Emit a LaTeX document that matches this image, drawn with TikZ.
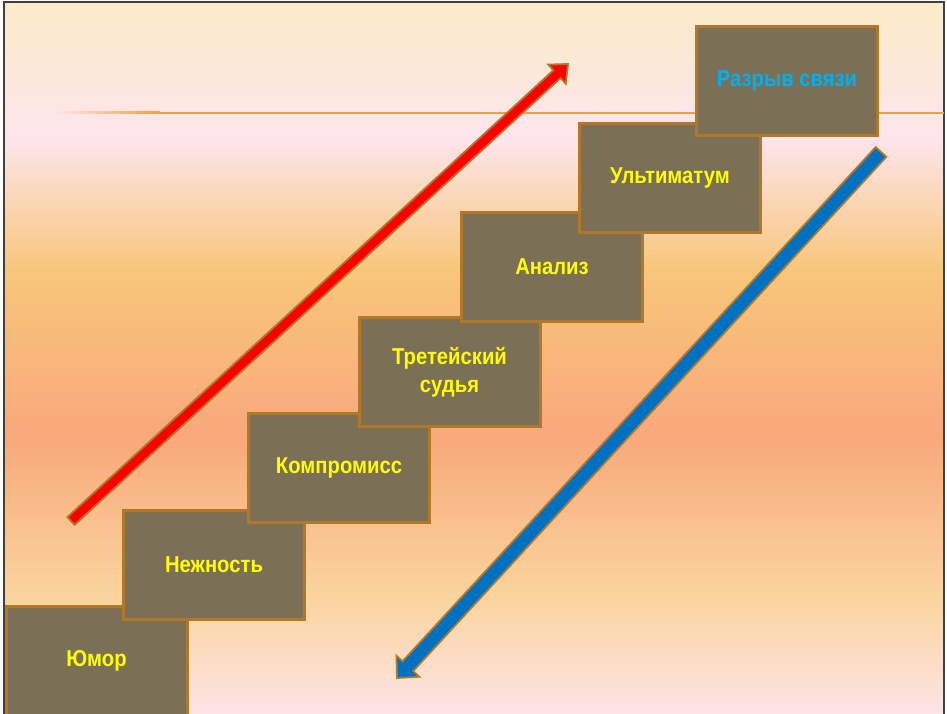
\documentclass[tikz,border=0pt]{standalone}
\usepackage{fontspec}
\setmainfont{Liberation Sans}[FakeStretch=0.88]
\usetikzlibrary{calc}
\definecolor{bgA}{HTML}{FBEBC8}
\definecolor{bgB}{HTML}{FDE5EC}
\definecolor{bgC}{HTML}{F8C67A}
\definecolor{bgD}{HTML}{F9A87B}
\definecolor{bgE}{HTML}{FAD49C}
\definecolor{bgF}{HTML}{FDE4E8}
\definecolor{boxfill}{HTML}{7B7055}
\definecolor{boxline}{HTML}{B07828}
\definecolor{txtyellow}{HTML}{FFFF00}
\definecolor{txtcyan}{HTML}{00B0F0}
\definecolor{arrred}{HTML}{FF0000}
\definecolor{arrblue}{HTML}{0070C0}
\definecolor{rule}{HTML}{F0A040}
\definecolor{framegray}{HTML}{404040}
\pgfdeclareverticalshading{slidebg}{100bp}{%
  color(0bp)=(bgF); color(25bp)=(bgF); color(33.5bp)=(bgE); color(44.7bp)=(bgD);
  color(56.2bp)=(bgC); color(65.5bp)=(bgB); color(75bp)=(bgA); color(100bp)=(bgA)}
\tikzset{
  stepbox/.style={draw=boxline, fill=boxfill, line width=3pt, minimum width=181pt,
    minimum height=109pt, inner sep=0pt, text=txtyellow, align=center,
    font=\bfseries\fontsize{23}{28}\selectfont},
  arrowshape/.style={draw=boxline, line width=1.8pt, line join=miter}
}
\begin{document}
\begin{tikzpicture}[x=1pt,y=-1pt]
\useasboundingbox (0,0) rectangle (947,714);
\fill[white] (0,0) rectangle (947,714);
\shade[shading=slidebg] (4,2) rectangle (944,716);
\draw[framegray, line width=1.2pt] (4,716) -- (4,2) -- (944,2) -- (944,716);
% orange rule
\shade[left color=bgB, right color=rule] (55,112) rectangle (160,114);
\fill[rule] (160,112) rectangle (944,114);
% red arrow
\coordinate (rt) at (71,521);
\coordinate (rh) at (568,64);
\coordinate (rn) at ($(rh)!15pt!(rt)$);
\filldraw[arrowshape, fill=arrred] ($(rt)!5.3pt!90:(rh)$) -- ($(rn)!5.3pt!90:(rh)$) -- ($(rn)!13pt!90:(rh)$) -- (rh)
  -- ($(rn)!13pt!-90:(rh)$) -- ($(rn)!5.3pt!-90:(rh)$) -- ($(rt)!5.3pt!-90:(rh)$) -- cycle;
% blue arrow
\coordinate (bt) at (881,152);
\coordinate (bh) at (397,678);
\coordinate (bn) at ($(bh)!16pt!(bt)$);
\filldraw[arrowshape, fill=arrblue] ($(bt)!7.2pt!90:(bh)$) -- ($(bn)!7.2pt!90:(bh)$) -- ($(bn)!15.5pt!90:(bh)$) -- (bh)
  -- ($(bn)!15.5pt!-90:(bh)$) -- ($(bn)!7.2pt!-90:(bh)$) -- ($(bt)!7.2pt!-90:(bh)$) -- cycle;
% steps
\node[stepbox] (humor) at (96.5,661) {Юмор};
\node[stepbox] (tender) at (214,565) {Нежность};
\node[stepbox] (comp) at (339,468) {Компромисс};
\node[stepbox] (judge) at (449.5,372) {Третейский\\судья};
\node[stepbox] (anal) at (552,267) {Анализ};
\node[stepbox] (ultim) at (670,178) {Ультиматум};
\node[stepbox, text=txtcyan] (break) at (787,81) {Разрыв связи};
\end{tikzpicture}
\end{document}
